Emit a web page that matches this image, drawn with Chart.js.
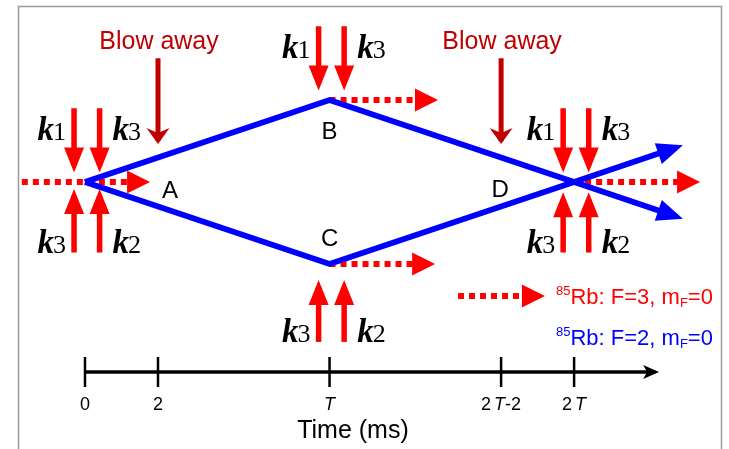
<!DOCTYPE html>
<html><head><meta charset="utf-8">
<script src="https://cdn.jsdelivr.net/npm/chart.js@4/dist/chart.umd.min.js"></script>
<style>html,body{margin:0;padding:0;background:#fff;overflow:hidden}canvas{display:block}</style>
</head><body>
<canvas id="c" width="729" height="449"></canvas>
<script>
// ---------------- data (schematic; time in ms, vertical in arbitrary units) ----------------
const T = 6.7;                                   // interrogation time (schematic)
const tickValues = [0, 2, T, 2 * T - 2, 2 * T];
const tickLabels = ['0', '2', 'T', '2T-2', '2T'];
const nodeNames = ['A', 'B', 'C', 'D'];
const nodeTimes = [0, T, T, 2 * T];
const nodeLevels = [0, 1, -1, 0];
// F=2 arms (blue)
const armTimes = [0, T, 2 * T, 16.2];
const upperArm = [0, 1, 0, -0.42];
const lowerArm = [0, -1, 0, 0.42];
// F=3 (red dotted) trajectories
const f3Start = [-1.73, T, T, 2 * T];
const f3End = [1.59, 9.48, 9.4, 16.66];
const f3Level = [0, 1, -1, 0];
// Raman beam pairs
const beamTimes = [0, 0, T, T, 2 * T, 2 * T];
const beamFrom = [0.9, -0.86, 1.9, -1.95, 0.9, -0.86];
const beamTo = [0.2, -0.17, 1.2, -1.28, 0.2, -0.21];
const beamLeft = ['1', '3', '1', '3', '1', '3'];
const beamRight = ['3', '2', '3', '2', '3', '2'];
// blow-away pulses
const blowTimes = [2, 2 * T - 2];
const blowFrom = 1.51, blowTo = 0.5;
// time axis
const axisLevel = -2.317, axisEnd = 15.62, tickHalf = 0.183;
// legend
const legendLevels = [-1.39, -1.89];
const legendTexts = ['F=3', 'F=2'];
const legendArrowT = [10.22, 12.41];

// ---------------- layout / style ----------------
const PX0 = 85, PXU = 36.5, PY0 = 182, PYU = 82, W = 729, H = 449;
const RED = '#ff0000', BLUE = '#0000ff', DARKRED = '#c00000';
const SANS = '"Liberation Sans", Arial, sans-serif';
const SERIF = '"Liberation Serif", "Times New Roman", serif';
const beamDx = [-0.3, 0.4];

const datasets = [];
function line(pts, color, width, arrow, dash) {
  datasets.push({
    type: 'line', data: pts, borderColor: color, backgroundColor: color,
    borderWidth: width, pointRadius: 0, tension: 0, fill: false,
    borderDash: dash || [], borderCapStyle: 'butt', borderJoinStyle: 'miter',
    arrow: arrow || null
  });
}
// blue arms (drawn first = on top)
line(armTimes.map((t, i) => ({x: t, y: upperArm[i]})), BLUE, 5.8, {len: 26, w: 22, ext: 7});
line(armTimes.map((t, i) => ({x: t, y: lowerArm[i]})), BLUE, 5.8, {len: 26, w: 22, ext: 7});
// red dotted F=3
f3Start.forEach((s, i) => line([{x: s, y: f3Level[i]}, {x: f3End[i], y: f3Level[i]}], RED, 6, {len: 23, w: 23, ext: 7}, [6, 5]));
line([{x: legendArrowT[0], y: legendLevels[0]}, {x: legendArrowT[1], y: legendLevels[0]}], RED, 6, {len: 23, w: 23, ext: 7}, [6, 5]);
// Raman beams
beamTimes.forEach((t, i) => beamDx.forEach(d =>
  line([{x: t + d, y: beamFrom[i]}, {x: t + d, y: beamTo[i]}], RED, 5.5, {len: 25, w: 20, ext: 7})));
// blow away
blowTimes.forEach(t => line([{x: t, y: blowFrom}, {x: t, y: blowTo}], DARKRED, 5, {len: 16, w: 23, ext: 3, notch: 5}));
// time axis + ticks
line([{x: 0, y: axisLevel}, {x: axisEnd, y: axisLevel}], '#000', 3.5, {len: 16, w: 14, ext: 4, notch: 4});
tickValues.forEach(v => line([{x: v, y: axisLevel + tickHalf}, {x: v, y: axisLevel - tickHalf}], '#000', 2.5));

function rich(ctx, segs, x, y, align) {
  let total = 0;
  segs.forEach(s => { ctx.font = s.f; s.w = ctx.measureText(s.t).width + (s.k || 0); total += s.w; });
  let cx = align === 'center' ? x - total / 2 : align === 'right' ? x - total : x;
  segs.forEach(s => { ctx.font = s.f; ctx.fillStyle = s.c; ctx.fillText(s.t, cx, y + (s.dy || 0)); cx += s.w; });
}
const kSegs = d => [
  {t: 'k', f: 'italic bold 33px ' + SERIF, c: '#000', k: -1},
  {t: d, f: '26px ' + SERIF, c: '#000'}
];

const deco = {
  id: 'deco',
  beforeDraw(chart) {
    const ctx = chart.ctx;
    ctx.save();
    ctx.fillStyle = '#fff'; ctx.fillRect(0, 0, W, H);
    ctx.strokeStyle = '#9a9a9a'; ctx.lineWidth = 1.5;
    ctx.beginPath(); ctx.moveTo(18.5, H + 5); ctx.lineTo(18.5, 6.5); ctx.lineTo(721.5, 6.5); ctx.lineTo(721.5, H + 5); ctx.stroke();
    ctx.restore();
  },
  afterDatasetsDraw(chart) {
    const ctx = chart.ctx;
    chart.data.datasets.forEach((ds, i) => {
      const a = ds.arrow; if (!a) return;
      const pts = chart.getDatasetMeta(i).data;
      const p1 = pts[pts.length - 2], p2 = pts[pts.length - 1];
      const dx = p2.x - p1.x, dy = p2.y - p1.y, L = Math.hypot(dx, dy);
      const ux = dx / L, uy = dy / L, nx = -uy, ny = ux;
      const tx = p2.x + ux * a.ext, ty = p2.y + uy * a.ext;
      const bx = tx - ux * a.len, by = ty - uy * a.len;
      ctx.save(); ctx.fillStyle = ds.borderColor; ctx.beginPath();
      ctx.moveTo(tx, ty);
      ctx.lineTo(bx + nx * a.w / 2, by + ny * a.w / 2);
      if (a.notch) ctx.lineTo(bx + ux * a.notch, by + uy * a.notch);
      ctx.lineTo(bx - nx * a.w / 2, by - ny * a.w / 2);
      ctx.closePath(); ctx.fill(); ctx.restore();
    });
  },
  afterDraw(chart) {
    const ctx = chart.ctx, xs = chart.scales.x, ys = chart.scales.y;
    ctx.save(); ctx.textBaseline = 'alphabetic';
    // node letters
    const off = [[85, 16], [0, 39], [0, -18], [-74, 15]];
    nodeNames.forEach((n, i) => {
      ctx.font = '24px ' + SANS; ctx.fillStyle = '#000'; ctx.textAlign = 'center';
      ctx.fillText(n, xs.getPixelForValue(nodeTimes[i]) + off[i][0], ys.getPixelForValue(nodeLevels[i]) + off[i][1]);
    });
    ctx.textAlign = 'left';
    // k labels
    beamTimes.forEach((t, i) => {
      const top = beamFrom[i] > beamTo[i];
      const by = ys.getPixelForValue(beamFrom[i]) + (top ? 32 : 0);
      rich(ctx, kSegs(beamLeft[i]), xs.getPixelForValue(t + beamDx[0]) - 8, by, 'right');
      rich(ctx, kSegs(beamRight[i]), xs.getPixelForValue(t + beamDx[1]) + 13, by, 'left');
    });
    // blow away labels
    blowTimes.forEach(t => rich(ctx, [{t: 'Blow away', f: '25px ' + SANS, c: DARKRED}],
      xs.getPixelForValue(t) + 1, ys.getPixelForValue(blowFrom) - 9, 'center'));
    // tick labels
    tickLabels.forEach((lab, i) => {
      const segs = [];
      const nf = '18px ' + SANS, itf = 'italic 18px ' + SANS;
      lab.split(/(T)/).forEach(p => { if (!p) return; segs.push({t: p, f: p === 'T' ? itf : nf, c: '#000', k: p === '2' && lab.length > 1 && segs.length === 0 ? 3 : 0}); });
      rich(ctx, segs, xs.getPixelForValue(tickValues[i]), ys.getPixelForValue(axisLevel) + 38, 'center');
    });
    rich(ctx, [{t: 'Time (ms)', f: '25px ' + SANS, c: '#000'}], 353, ys.getPixelForValue(axisLevel) + 66, 'center');
    // legend
    legendTexts.forEach((lt, i) => {
      const c = i === 0 ? RED : BLUE;
      rich(ctx, [
        {t: '85', f: '13px ' + SANS, c, dy: -9},
        {t: 'Rb: ' + lt + ', m', f: '22px ' + SANS, c},
        {t: 'F', f: '13px ' + SANS, c, dy: 3},
        {t: '=0', f: '22px ' + SANS, c}
      ], 556, ys.getPixelForValue(legendLevels[i]) + 8, 'left');
    });
    ctx.restore();
  }
};

new Chart(document.getElementById('c'), {
  type: 'line',
  data: {datasets},
  options: {
    responsive: false, devicePixelRatio: 1, animation: false, events: [],
    layout: {padding: 0},
    plugins: {legend: {display: false}, tooltip: {enabled: false}},
    scales: {
      x: {type: 'linear', display: false, min: -PX0 / PXU, max: (W - PX0) / PXU},
      y: {type: 'linear', display: false, min: (PY0 - H) / PYU, max: PY0 / PYU}
    }
  },
  plugins: [deco]
});
</script>
</body></html>
